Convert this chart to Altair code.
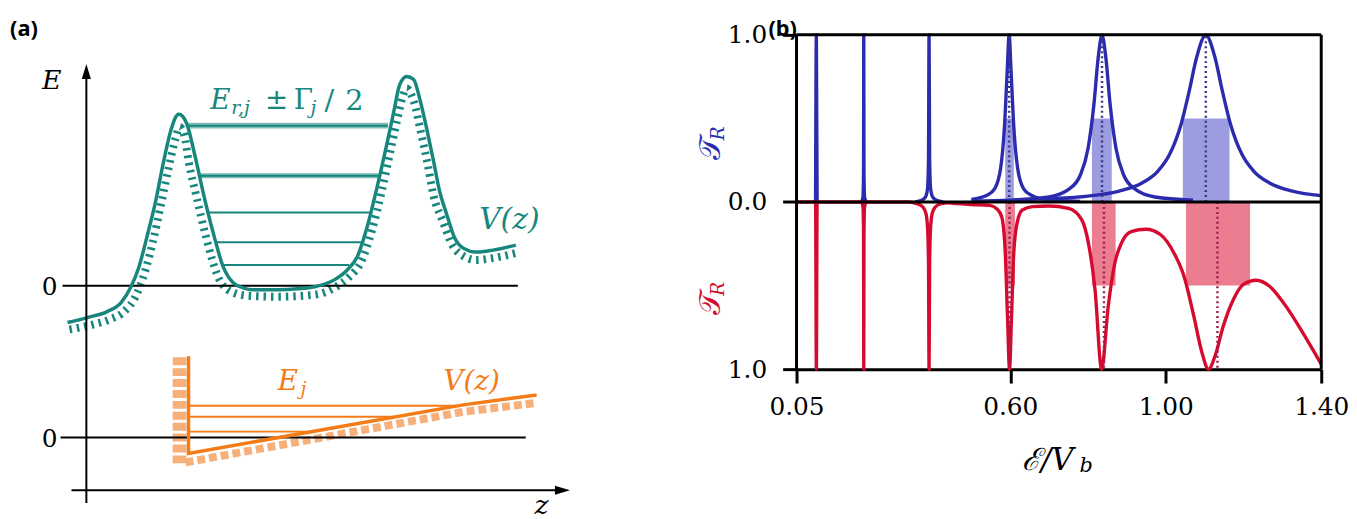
import altair as alt
import pandas as pd

TEAL = "#17877e"
ORANGE = "#f47b16"
ORANGE_LIGHT = "#f7b07a"
BLUE = "#2b2bae"
BLUE_FILL = "#9c9ce0"
BLUE_DOT = "#3a3a8c"
RED = "#d50a2e"
RED_FILL = "#ec7d90"
RED_DOT = "#9c1f4f"
SERIF = "DejaVu Serif"
SANS = "Noto Sans"

# ---------------- panel (a): schematic, z / E in arbitrary units ----------------
teal_z = [-1.9, 0.1, 2.1, 3.5, 4.5, 5.3, 6.1, 7.0, 7.8, 8.5, 8.9, 9.3, 9.7, 10.1, 11.0, 11.8, 12.8, 13.8, 14.8, 15.8,
          16.8, 19.3, 21.3, 23.0, 25.0, 26.3, 27.3, 28.3, 29.3, 30.3, 31.0, 31.6, 32.3, 33.0, 33.6, 34.3, 35.0, 35.6,
          36.3, 37.1, 38.0, 39.3, 41.0, 43.3]
teal_E = [-3.7, -3.2, -2.6, -1.7, -0.1, 1.9, 4.9, 8.6, 12.6, 15.6, 16.8, 17.3, 17.1, 16.4, 12.9, 9.3, 5.3, 1.9, 0.3, -0.2,
          -0.4, -0.4, -0.3, -0.1, 0.6, 1.6, 2.9, 5.9, 9.9, 14.3, 17.6, 20.3, 21.1, 20.8, 18.9, 15.9, 12.6, 9.6,
          7.3, 4.9, 3.8, 3.4, 3.6, 4.1]
teal_hatch_z = [-1.7, 0.3, 2.3, 3.8, 5.0, 5.9, 6.7, 7.5, 8.3, 9.0, 9.4, 9.9, 10.3, 11.1, 12.1, 13.2, 14.6, 16.3, 19.3,
                23.0, 25.0, 26.5, 27.7, 28.8, 29.8, 30.7, 31.4, 31.9, 32.3, 32.7, 33.1, 33.7, 34.4, 35.0, 35.9, 36.9,
                38.0, 39.3, 41.0, 43.3]
teal_hatch_E = [-4.4, -4.0, -3.4, -2.6, -1.0, 1.4, 4.4, 8.1, 11.9, 14.9, 16.0, 15.1, 12.6, 9.0, 4.8, 1.1, -0.6, -1.0,
                -1.1, -0.9, -0.2, 0.9, 2.4, 5.6, 9.6, 13.8, 17.0, 19.1, 19.9, 19.4, 18.3, 15.6, 12.3, 9.1, 6.6, 4.1,
                3.0, 2.6, 2.8, 3.3]
teal_level_E = [16.15, 11.1, 7.4, 4.4, 2.1]
teal_level_z1 = [10.2, 11.4, 12.3, 13.1, 13.7]
teal_level_z2 = [30.4, 29.4, 28.6, 27.8, 26.5]
teal_band_E1 = [15.85, 10.85]
teal_band_E2 = [16.45, 11.35]

orange_z = [10.3, 10.3, 38.0, 45.4]
orange_E = [-7.1, -16.9, -12.0, -11.0]
orange_wall_hatch_z = [9.4, 9.4]
orange_wall_hatch_E = [-7.2, -18.2]
orange_slope_hatch_z = [10.0, 38.0, 45.4]
orange_slope_hatch_E = [-17.8, -12.7, -11.8]
orange_level_E = [-12.1, -13.2, -14.7]
orange_level_z1 = [10.3, 10.3, 10.3]
orange_level_z2 = [37.4, 31.2, 22.7]

zero_E = [0.0, -15.3]
zero_z1 = [-2.4, -2.6]
zero_z2 = [43.5, 44.3]

# ---------------- panel (b): transmission curves ----------------
blue1_E = [0.099, 0.101, 0.103]
blue1_T = [0.0, 1.0, 0.0]
blue2_E = [0.217, 0.221, 0.2225, 0.223, 0.2235, 0.225, 0.229]
blue2_T = [0.0, 0.03, 0.2, 1.0, 0.2, 0.03, 0.0]
blue3_E = [0.355, 0.372, 0.382, 0.387, 0.3895, 0.391, 0.3925, 0.395, 0.400, 0.410, 0.427]
blue3_T = [0.0, 0.01, 0.03, 0.08, 0.25, 1.0, 0.25, 0.08, 0.03, 0.01, 0.0]
blue4_E = [0.50, 0.54, 0.56, 0.575, 0.585, 0.592, 0.597, 0.602, 0.609, 0.619, 0.634, 0.654, 0.70, 0.78]
blue4_T = [0.015, 0.04, 0.08, 0.2, 0.45, 0.78, 1.0, 0.78, 0.45, 0.2, 0.08, 0.04, 0.012, 0.004]
blue5_E = [0.50, 0.60, 0.70, 0.75, 0.78, 0.80, 0.815, 0.826, 0.836, 0.846, 0.857, 0.872, 0.892, 0.922, 0.972, 1.07]
blue5_T = [0.006, 0.011, 0.03, 0.075, 0.16, 0.32, 0.58, 0.86, 1.0, 0.86, 0.58, 0.32, 0.16, 0.075, 0.03, 0.011]
blue6_E = [0.61, 0.70, 0.80, 0.88, 0.94, 0.98, 1.01, 1.04, 1.06, 1.08, 1.103, 1.126, 1.146, 1.166, 1.196, 1.226,
           1.266, 1.326, 1.40]
blue6_T = [0.014, 0.02, 0.035, 0.065, 0.115, 0.185, 0.285, 0.47, 0.66, 0.87, 1.0, 0.87, 0.66, 0.47, 0.285, 0.185,
           0.115, 0.065, 0.038]

red_E = [0.05, 0.099, 0.101, 0.103, 0.217, 0.221, 0.2225, 0.223, 0.2235, 0.225, 0.229, 0.340, 0.360, 0.375, 0.383,
         0.387, 0.3895, 0.391, 0.3925, 0.395, 0.399, 0.407, 0.422, 0.44, 0.462, 0.50, 0.547, 0.565, 0.578, 0.587,
         0.593, 0.598, 0.603, 0.609, 0.618, 0.631, 0.657, 0.699, 0.75, 0.784, 0.801, 0.818, 0.835, 0.852, 0.869,
         0.886, 0.911, 0.949, 0.987, 1.021, 1.047, 1.072, 1.093, 1.110, 1.127, 1.148, 1.174, 1.199, 1.233, 1.267,
         1.309, 1.352, 1.40]
red_R = [0.0, 0.0, 1.0, 0.0, 0.0, 0.03, 0.2, 1.0, 0.2, 0.03, 0.0, 0.0, 0.01, 0.03, 0.07,
         0.15, 0.35, 1.0, 0.35, 0.15, 0.07, 0.03, 0.01, 0.005, 0.01, 0.015, 0.02, 0.04, 0.09, 0.3,
         0.7, 1.0, 0.7, 0.3, 0.12, 0.048, 0.028, 0.024, 0.038, 0.107, 0.246, 0.524, 1.0, 0.623, 0.365,
         0.246, 0.177, 0.163, 0.196, 0.305, 0.445, 0.682, 0.90, 1.0, 0.92, 0.742, 0.583, 0.494, 0.468, 0.504,
         0.623, 0.78, 0.97]

blue_rect_E1 = [0.587, 0.810, 1.044]
blue_rect_E2 = [0.609, 0.861, 1.164]
red_rect_E1 = [0.587, 0.810, 1.052]
red_rect_E2 = [0.612, 0.871, 1.217]
blue_res_E = [0.597, 0.836, 1.103]
red_res_E = [0.598, 0.841, 1.133]
x_ticks = [0.05, 0.60, 1.00, 1.40]
y_ticks = [-1, 0, 1]

# ======================= panel (a) chart =======================
ZX = alt.Scale(domain=[-7.9, 50.1], nice=False, zero=False)
ZY = alt.Scale(domain=[-22.5, 27.8], nice=False, zero=False)


def xz(f="z"):
    return alt.X(f"{f}:Q", scale=ZX, axis=None)


def ye(f="E"):
    return alt.Y(f"{f}:Q", scale=ZY, axis=None)


teal_df = pd.DataFrame({"z": teal_z, "E": teal_E})
teal_h_df = pd.DataFrame({"z": teal_hatch_z, "E": teal_hatch_E})
lev_df = pd.DataFrame({"E": teal_level_E, "z1": teal_level_z1, "z2": teal_level_z2})
band_df = pd.DataFrame({"E1": teal_band_E1, "E2": teal_band_E2,
                        "z1": teal_level_z1[:2], "z2": teal_level_z2[:2]})
or_df = pd.DataFrame({"z": orange_z, "E": orange_E, "o": list(range(len(orange_z)))})
or_wh = pd.DataFrame({"z": orange_wall_hatch_z, "E": orange_wall_hatch_E})
or_sh = pd.DataFrame({"z": orange_slope_hatch_z, "E": orange_slope_hatch_E})
or_lev = pd.DataFrame({"E": orange_level_E, "z1": orange_level_z1, "z2": orange_level_z2})
zero_df = pd.DataFrame({"E": zero_E, "z1": zero_z1, "z2": zero_z2})
yaxis_df = pd.DataFrame({"z": [0.0], "E1": [-21.9], "E2": [21.6]})
xaxis_df = pd.DataFrame({"E": [-20.6], "z1": [-1.5], "z2": [48.0]})
head_up = pd.DataFrame({"z": [0.0], "E": [21.6]})
head_right = pd.DataFrame({"z": [48.0], "E": [-20.6]})

a_layers = [
    alt.Chart(teal_h_df).mark_line(color=TEAL, strokeWidth=8, strokeDash=[2.5, 5], interpolate="monotone")
    .encode(x=xz(), y=ye()),
    alt.Chart(or_sh).mark_line(color=ORANGE_LIGHT, strokeWidth=8, strokeDash=[8, 4])
    .encode(x=xz(), y=ye()),
    alt.Chart(or_wh).mark_line(color=ORANGE_LIGHT, strokeWidth=14, strokeDash=[8, 3])
    .encode(x=xz(), y=ye()),
    alt.Chart(zero_df).mark_rule(color="black", strokeWidth=2)
    .encode(x=xz("z1"), x2="z2:Q", y=ye()),
    alt.Chart(band_df).mark_rect(color=TEAL, opacity=0.55)
    .encode(x=xz("z1"), x2="z2:Q", y=ye("E1"), y2="E2:Q"),
    alt.Chart(lev_df).mark_rule(color=TEAL, strokeWidth=2)
    .encode(x=xz("z1"), x2="z2:Q", y=ye()),
    alt.Chart(or_lev).mark_rule(color=ORANGE, strokeWidth=2)
    .encode(x=xz("z1"), x2="z2:Q", y=ye()),
    alt.Chart(teal_df).mark_line(color=TEAL, strokeWidth=3.5, interpolate="monotone")
    .encode(x=xz(), y=ye()),
    alt.Chart(or_df).mark_line(color=ORANGE, strokeWidth=3.5)
    .encode(x=xz(), y=ye(), order="o:Q"),
    alt.Chart(yaxis_df).mark_rule(color="black", strokeWidth=2)
    .encode(x=xz(), y=ye("E1"), y2="E2:Q"),
    alt.Chart(xaxis_df).mark_rule(color="black", strokeWidth=2)
    .encode(x=xz("z1"), x2="z2:Q", y=ye()),
    alt.Chart(head_up).mark_point(shape="M0,-1L0.6,1L-0.6,1Z", size=230, filled=True, color="black", opacity=1)
    .encode(x=xz(), y=ye()),
    alt.Chart(head_right).mark_point(shape="M1,0L-1,0.6L-1,-0.6Z", size=230, filled=True, color="black", opacity=1)
    .encode(x=xz(), y=ye()),
]


def a_text(rows, **kw):
    df = pd.DataFrame(rows, columns=["z", "E", "t"])
    return alt.Chart(df).mark_text(**kw).encode(x=xz(), y=ye(), text="t:N")


a_layers += [
    a_text([(-7.7, 25.9, "(a)")], font=SANS, fontWeight="bold", fontSize=22, align="left", color="black"),
    a_text([(-3.5, 20.6, "E")], font=SERIF, fontStyle="italic", fontSize=27, align="center", color="black"),
    a_text([(-3.7, -0.1, "0"), (-3.7, -15.4, "0")], font=SERIF, fontSize=25, align="center",
           baseline="middle", color="black"),
    a_text([(45.9, -22.2, "z")], font=SERIF, fontStyle="italic", fontSize=27, align="center", color="black"),
    # E_{r,j} ± Γ_j/2
    a_text([(12.5, 18.6, "E")], font=SERIF, fontStyle="italic", fontSize=28, align="left", color=TEAL),
    a_text([(39.6, 6.6, "V(z)")], font=SERIF, fontStyle="italic", fontSize=30, align="left", color=TEAL),
    a_text([(14.6, 17.9, "r,j"), (22.6, 17.9, "j")], font=SERIF, fontStyle="italic", fontSize=19,
           align="left", color=TEAL),
    a_text([(18.0, 18.6, "±"), (20.9, 18.6, "Γ")], font=SERIF, fontSize=28, align="left", color=TEAL),
    a_text([(24.0, 18.6, "/"), (26.1, 18.6, "2")], font=SERIF, fontSize=29, align="left", color=TEAL),
    # orange labels
    a_text([(19.3, -9.7, "E")], font=SERIF, fontStyle="italic", fontSize=28, align="left", color=ORANGE),
    a_text([(36.0, -9.7, "V(z)")], font=SERIF, fontStyle="italic", fontSize=28, align="left", color=ORANGE),
    a_text([(21.6, -10.4, "j")], font=SERIF, fontStyle="italic", fontSize=19, align="left", color=ORANGE),
]

chart_a = alt.layer(*a_layers).properties(width=580, height=503)

# ======================= panel (b) chart =======================
BX = alt.Scale(domain=[0.05, 1.40], nice=False, zero=False)
BY = alt.Scale(domain=[-1, 1.148], nice=False, zero=False)
AX_COMMON = dict(domainColor="black", domainWidth=3, tickColor="black", tickWidth=3, tickSize=14,
                 labelFont=SERIF, labelFontSize=25, labelColor="black", grid=False, title=None,
                 labelFlush=False, labelOverlap=False, labelBound=False)
x_axis = alt.Axis(values=x_ticks, format=".2f", labelPadding=12, **AX_COMMON)
y_axis = alt.Axis(values=y_ticks, labelExpr="datum.value == 0 ? '0.0' : '1.0'", labelPadding=16,
                  domain=False, **AX_COMMON)


def bx(f="E"):
    return alt.X(f"{f}:Q", scale=BX, axis=x_axis)


def by(f="v"):
    return alt.Y(f"{f}:Q", scale=BY, axis=y_axis)


blue_rows = []
for sid, (es, ts) in enumerate([(blue1_E, blue1_T), (blue2_E, blue2_T), (blue3_E, blue3_T),
                                (blue4_E, blue4_T), (blue5_E, blue5_T), (blue6_E, blue6_T)]):
    for e, t in zip(es, ts):
        blue_rows.append({"E": e, "v": t, "s": sid})
blue_df = pd.DataFrame(blue_rows)
red_df = pd.DataFrame({"E": red_E, "v": [-r for r in red_R]})

brect = pd.DataFrame({"E1": blue_rect_E1, "E2": blue_rect_E2, "v1": 0.0, "v2": 0.5})
rrect = pd.DataFrame({"E1": red_rect_E1, "E2": red_rect_E2, "v1": 0.0, "v2": -0.5})
bres = pd.DataFrame({"E": blue_res_E, "v1": 0.0, "v2": 1.0})
rres = pd.DataFrame({"E": red_res_E, "v1": 0.0, "v2": -1.0})
hframe = pd.DataFrame({"v": [1.0, 0.0], "E1": [0.05, 0.05], "E2": [1.40, 1.40]})
vframe = pd.DataFrame({"E": [0.05, 1.40], "v1": [-1.0, -1.0], "v2": [1.0, 1.0]})

b_layers = [
    alt.Chart(brect).mark_rect(color=BLUE_FILL)
    .encode(x=bx("E1"), x2="E2:Q", y=by("v1"), y2="v2:Q"),
    alt.Chart(rrect).mark_rect(color=RED_FILL)
    .encode(x=bx("E1"), x2="E2:Q", y=by("v1"), y2="v2:Q"),
    alt.Chart(blue_df).mark_line(color=BLUE, strokeWidth=3.4, interpolate="monotone")
    .encode(x=bx(), y=by(), detail="s:N"),
    alt.Chart(red_df).mark_line(color=RED, strokeWidth=3.4, interpolate="monotone")
    .encode(x=bx(), y=by()),
    alt.Chart(bres).mark_rule(color=BLUE_DOT, strokeWidth=2.5, strokeDash=[2, 3])
    .encode(x=bx(), y=by("v1"), y2="v2:Q"),
    alt.Chart(rres).mark_rule(color=RED_DOT, strokeWidth=2.5, strokeDash=[2, 3])
    .encode(x=bx(), y=by("v1"), y2="v2:Q"),
    alt.Chart(hframe).mark_rule(color="black", strokeWidth=3)
    .encode(x=bx("E1"), x2="E2:Q", y=by()),
    alt.Chart(vframe).mark_rule(color="black", strokeWidth=3)
    .encode(x=bx(), y=by("v1"), y2="v2:Q"),
]


def b_text(rows, **kw):
    df = pd.DataFrame(rows, columns=["E", "v", "t"])
    return alt.Chart(df).mark_text(**kw).encode(x=bx(), y=by(), text="t:N")


b_layers += [
    b_text([(0.0144, 1.036, "(b)")], font=SANS, fontWeight="bold", fontSize=22, align="center", color="black"),
    b_text([(-0.169, 0.32, "𝒯")], font=SERIF, fontSize=30, angle=270, align="center", baseline="middle",
           color=BLUE),
    b_text([(-0.153, 0.41, "R")], font=SERIF, fontStyle="italic", fontSize=19, angle=270, align="center",
           baseline="middle", color=BLUE),
    b_text([(-0.169, -0.61, "𝒯")], font=SERIF, fontSize=30, angle=270, align="center", baseline="middle",
           color=RED),
    b_text([(-0.153, -0.52, "R")], font=SERIF, fontStyle="italic", fontSize=19, angle=270, align="center",
           baseline="middle", color=RED),
    b_text([(0.63, -1.55, "ℰ/V")], font=SERIF, fontStyle="italic", fontSize=31, align="left", color="black"),
    b_text([(0.778, -1.58, "b")], font=SERIF, fontStyle="italic", fontSize=21, align="left", color="black"),
]

chart_b = alt.layer(*b_layers).properties(width=529, height=362)

chart = (
    alt.hconcat(chart_a, chart_b, spacing=114)
    .properties(padding=0)
    .configure_view(stroke=None)
)

chart.save("out.html", embed_options={"renderer": "svg", "actions": False})
